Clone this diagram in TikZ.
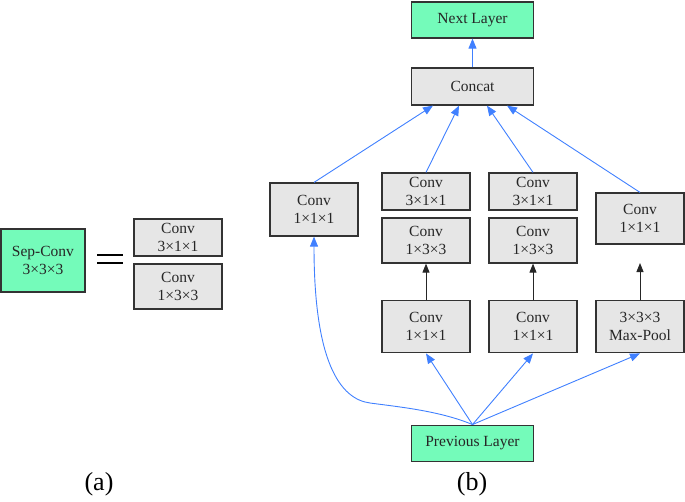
\documentclass[tikz,border=0pt]{standalone}
\usepackage{fontspec}
\setmainfont{Liberation Serif}
\usetikzlibrary{arrows.meta}
\definecolor{boxgreen}{RGB}{116,251,186}
\definecolor{boxgray}{RGB}{230,230,230}
\definecolor{edgegray}{RGB}{51,51,51}
\definecolor{arrblue}{RGB}{64,128,255}
\begin{document}
\begin{tikzpicture}[x=1pt,y=1pt,
  box/.style={draw=edgegray,line width=1.2pt,fill=boxgray,inner sep=0pt,align=center,
    font=\fontsize{15.5}{17.5}\selectfont,text=black!85},
  gbox/.style={box,fill=boxgreen},
  barr/.style={draw=arrblue,line width=0.9pt,-{Triangle[length=10pt,width=8pt]}},
  karr/.style={draw=black!85,line width=0.9pt,-{Triangle[length=9pt,width=7pt]}},
  lab/.style={font=\fontsize{26}{30}\selectfont}]
\useasboundingbox (0,0) rectangle (685,-501);
% (a)
\node[gbox,minimum width=84pt,minimum height=63pt] (sep) at (43,-260.5) {Sep-Conv\\3×3×3};
\node[box,minimum width=88pt,minimum height=37pt] (a1) at (178,-237.5) {Conv\\3×1×1};
\node[box,minimum width=88pt,minimum height=45pt] (a2) at (178,-286.5) {Conv\\1×3×3};
\coordinate (eqa) at (97,-255);
\coordinate (eqb) at (123,-255);
\coordinate (eqc) at (97,-263);
\coordinate (eqd) at (123,-263);
\draw[line width=2.6pt] (eqa) -- (eqb) (eqc) -- (eqd);
\node[lab] (la) at (99,-484) {(a)};
% (b)
\node[gbox,minimum width=121.6pt,minimum height=36pt] (next) at (472.5,-20) {Next Layer};
\node[box,minimum width=121.6pt,minimum height=37pt] (concat) at (472.5,-86.5) {Concat};
\node[box,minimum width=88pt,minimum height=53pt] (L) at (314,-209.5) {Conv\\1×1×1};
\node[box,minimum width=88pt,minimum height=37pt] (c2t) at (426,-191.5) {Conv\\3×1×1};
\node[box,minimum width=88pt,minimum height=37pt] (c3t) at (533,-191.5) {Conv\\3×1×1};
\node[box,minimum width=88pt,minimum height=45pt] (c2m) at (426,-240.5) {Conv\\1×3×3};
\node[box,minimum width=88pt,minimum height=45pt] (c3m) at (533,-240.5) {Conv\\1×3×3};
\node[box,minimum width=88pt,minimum height=51pt] (R) at (640,-218.5) {Conv\\1×1×1};
\node[box,minimum width=88pt,minimum height=52.7pt] (c2b) at (426,-326.5) {Conv\\1×1×1};
\node[box,minimum width=88pt,minimum height=52.7pt] (c3b) at (533,-326.5) {Conv\\1×1×1};
\node[box,minimum width=88pt,minimum height=52.7pt] (mp) at (640,-326.5) {3×3×3\\Max-Pool};
\node[gbox,minimum width=121.6pt,minimum height=36.7pt] (prev) at (472.5,-443.5) {Previous Layer};
\node[lab] (lb) at (472,-484) {(b)};
\coordinate (mpend) at (640,-263);
% arrows
\draw[barr] (concat.north) -- (next.south);
\draw[barr] (L.north) -- ([xshift=-39.5pt]concat.south);
\draw[barr] (c2t.north) -- ([xshift=-13.5pt]concat.south);
\draw[barr] (c3t.north) -- ([xshift=14.5pt]concat.south);
\draw[barr] (R.north) -- ([xshift=34.5pt]concat.south);
\draw[karr] (c2b.north) -- (c2m.south);
\draw[karr] (c3b.north) -- (c3m.south);
\draw[karr] (mp.north) -- (mpend);
\draw[barr] (prev.north) -- (c2b.south);
\draw[barr] (prev.north) -- (c3b.south);
\draw[barr] (prev.north) -- (mp.south);
\draw[barr] (prev.north) .. controls (440,-411) and (400,-407) .. (370,-403)
  .. controls (340,-399) and (314,-362) .. (L.south);
\end{tikzpicture}
\end{document}
